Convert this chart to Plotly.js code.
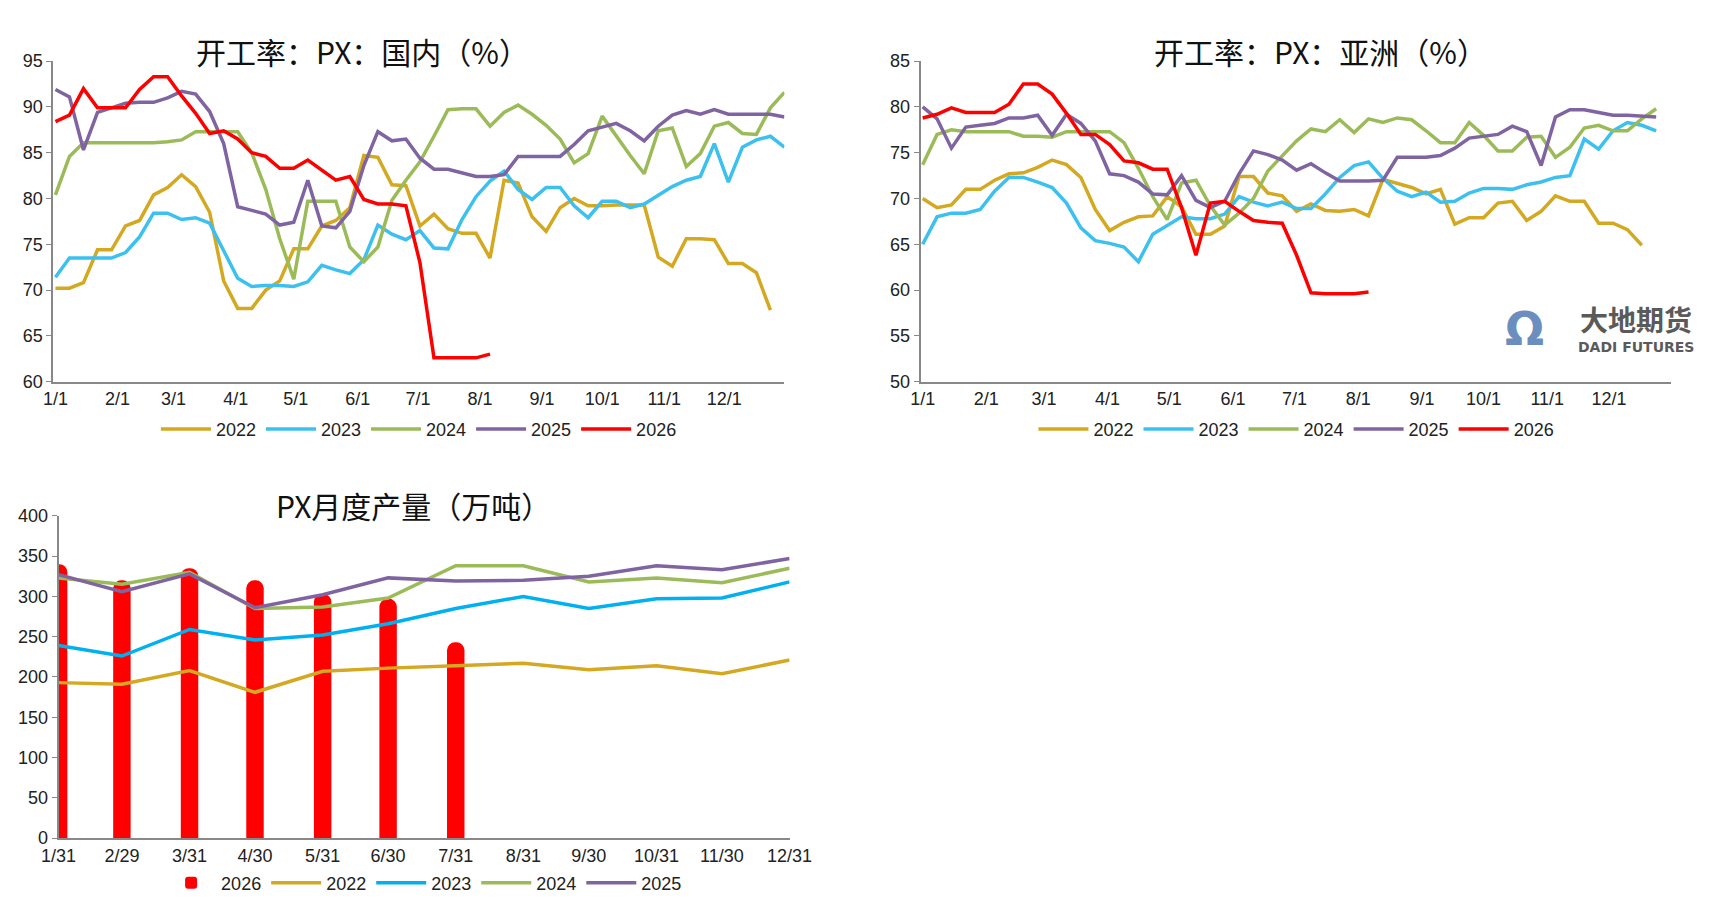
<!DOCTYPE html>
<html>
<head>
<meta charset="utf-8">
<script src="https://cdn.plot.ly/plotly-3.0.1.min.js"></script>
<style>body{margin:0;background:#fff}#myDiv{width:1724px;height:913px}</style>
</head>
<body>
<div id="myDiv"></div>
<script>
// weekly operating rates, domestic PX (%)
var cn2022 = [70.2,70.2,70.8,74.4,74.4,77,77.6,80.4,81.2,82.6,81.3,78.5,71,68,68,70,71,74.5,74.5,77,77.6,79,84.7,84.5,81.5,81.4,77,78.3,76.7,76.2,76.2,73.5,82,81.7,78,76.4,79,80,79.2,79.2,79.3,79.3,79.3,73.6,72.6,75.6,75.6,75.5,72.9,72.9,71.9,67.8];
var cn2023 = [71.4,73.5,73.5,73.5,73.5,74.1,75.8,78.4,78.4,77.7,77.9,77.3,74.2,71.3,70.4,70.5,70.5,70.4,70.9,72.7,72.2,71.8,73.3,77.1,76.1,75.5,76.5,74.6,74.5,77.7,80.2,81.9,83,81,79.9,81.2,81.2,79.2,77.9,79.7,79.7,79,79.4,80.4,81.3,82,82.4,86,81.8,85.6,86.4,86.8,85.6];
var cn2024 = [80.4,84.6,86.1,86.1,86.1,86.1,86.1,86.1,86.2,86.4,87.3,87.3,87.3,87.3,85,81,75.6,71.2,79.7,79.7,79.7,74.7,73.1,74.7,79.8,82,84,86.8,89.7,89.8,89.8,87.9,89.4,90.2,89.2,88,86.5,83.9,84.9,89,86.8,84.7,82.7,87.4,87.7,83.5,84.9,87.9,88.3,87.1,87,89.9,91.6];
var cn2025 = [91.9,91.1,85.3,89.4,89.9,90.4,90.5,90.5,91,91.7,91.4,89.5,86,79.1,78.7,78.3,77.1,77.4,82,77,76.8,78.6,83.6,87.3,86.3,86.5,84.4,83.2,83.2,82.8,82.4,82.4,82.6,84.6,84.6,84.6,84.6,85.9,87.4,87.8,88.2,87.4,86.3,87.9,89.1,89.6,89.2,89.7,89.2,89.2,89.2,89.2,88.9];
var cn2026 = [88.4,89.1,92,89.9,89.9,89.9,91.9,93.3,93.3,91.2,89.3,87.1,87.4,86.5,85,84.6,83.3,83.3,84.2,83.1,82,82.4,79.9,79.4,79.4,79.2,73,62.6,62.6,62.6,62.6,63];

// weekly operating rates, Asia PX (%)
var as2022 = [70,69,69.3,71,71,72,72.7,72.8,73.4,74.2,73.7,72.3,68.8,66.5,67.4,68,68.1,70.2,69.1,66.1,66.1,67,72.4,72.4,70.6,70.3,68.6,69.4,68.7,68.6,68.8,68.1,72.1,71.7,71.2,70.5,71,67.2,67.9,67.9,69.5,69.7,67.6,68.6,70.3,69.7,69.7,67.3,67.3,66.6,64.9];
var as2023 = [65,68,68.4,68.4,68.8,70.8,72.3,72.3,71.8,71.2,69.5,66.8,65.4,65.1,64.7,63.1,66.1,67,68,67.8,67.8,68.3,70.2,69.6,69.2,69.6,68.9,68.9,70.5,72.3,73.6,74,72.2,70.8,70.2,70.7,69.6,69.7,70.6,71.1,71.1,71,71.5,71.8,72.3,72.5,76.5,75.4,77.4,78.3,78,77.4];
var as2024 = [73.7,77,77.5,77.3,77.3,77.3,77.3,76.8,76.8,76.7,77.3,77.3,77.3,77.3,76.1,73.3,70.2,67.7,71.7,72,69.2,67.1,68.4,70,73,74.6,76.3,77.6,77.3,78.6,77.2,78.7,78.3,78.8,78.6,77.4,76.1,76.1,78.3,76.9,75.2,75.2,76.7,76.8,74.5,75.6,77.7,78,77.4,77.4,78.7,79.8];
var as2025 = [80,78.7,75.5,77.8,78,78.2,78.8,78.8,79.1,76.9,79.2,78.2,76.3,72.7,72.5,71.8,70.5,70.4,72.5,69.8,69,69.7,72.7,75.2,74.8,74.2,73.1,73.8,72.8,71.9,71.9,71.9,72,74.5,74.5,74.5,74.7,75.5,76.6,76.8,77,77.9,77.3,73.6,78.9,79.7,79.7,79.4,79.1,79.1,79,78.9];
var as2026 = [78.8,79.2,79.9,79.4,79.4,79.4,80.3,82.5,82.5,81.4,79.3,77,77,75.9,74.1,73.9,73.2,73.2,69,63.8,69.5,69.7,68.6,67.6,67.4,67.3,63.8,59.7,59.6,59.6,59.6,59.8];

// monthly PX output (10k t)
var months = ['2024-01-31','2024-02-29','2024-03-31','2024-04-30','2024-05-31','2024-06-30','2024-07-31','2024-08-31','2024-09-30','2024-10-31','2024-11-30','2024-12-31'];
var monthLabels = ['1/31','2/29','3/31','4/30','5/31','6/30','7/31','8/31','9/30','10/31','11/30','12/31'];
var out2022 = [193,191,208,181,207,211,214,217,209,214,204,221];
var out2023 = [239,226,259,246,252,266,285,300,285,297,298,318];
var out2024 = [323,315,330,285,287,298,338,338,318,323,317,335];
var out2025 = [327,306,328,286,302,323,319,320,325,338,333,347];
var out2026 = [340,320,335,320,303,297,243];

var years = ['2022','2023','2024','2025','2026'];
var colors = ['#D4A820','#3CC0F0','#9BBB59','#8064A2','#FF0000'];

function weeks(n) {
  var d = [];
  for (var i = 0; i < n; i++) {
    d.push(new Date(Date.UTC(2021, 0, 1 + 7 * i)).toISOString().slice(0, 10));
  }
  return d;
}

var data = [];
[cn2022, cn2023, cn2024, cn2025, cn2026].forEach(function (s, i) {
  data.push({x: weeks(s.length), y: s, xaxis: 'x', yaxis: 'y', mode: 'lines', name: years[i],
    legend: 'legend', line: {color: colors[i], width: 3.5}});
});
[as2022, as2023, as2024, as2025, as2026].forEach(function (s, i) {
  data.push({x: weeks(s.length), y: s, xaxis: 'x2', yaxis: 'y2', mode: 'lines', name: years[i],
    legend: 'legend2', line: {color: colors[i], width: 3.5}});
});
data.push({x: months.slice(0, out2026.length), y: out2026, type: 'bar', name: '2026',
  xaxis: 'x3', yaxis: 'y3', legend: 'legend3', width: 8 * 86400000,
  marker: {color: '#FF0000', cornerradius: '50%'}});
var lineColors3 = ['#D4A820','#00B0F0','#9BBB59','#8064A2'];
[out2022, out2023, out2024, out2025].forEach(function (s, i) {
  data.push({x: months, y: s, xaxis: 'x3', yaxis: 'y3', mode: 'lines', name: years[i],
    legend: 'legend3', line: {color: lineColors3[i], width: 3.5}});
});

var tickFont = {family: 'Liberation Sans Narrow, Liberation Sans, sans-serif', size: 18, color: '#222'};
var dateAxis = {type: 'date', range: ['2020-12-31', '2021-12-31'], tickformat: '%-m/%-d', dtick: 'M1',
  tick0: '2021-01-01', showgrid: false, showline: true, linecolor: '#888', linewidth: 2,
  ticks: '', tickfont: tickFont, zeroline: false};
var valAxis = {showgrid: false, showline: true, linecolor: '#888', linewidth: 2, ticks: 'outside',
  ticklen: 5, tickcolor: '#888', tickfont: tickFont, zeroline: false};
var legendBase = {orientation: 'h', xanchor: 'center', yanchor: 'top',
  font: {family: 'Liberation Sans Narrow, Liberation Sans, sans-serif', size: 18, color: '#222'}, itemwidth: 50};
var titleFont = {family: 'Noto Sans CJK SC, sans-serif', size: 30, color: '#111'};
function ann(text, x, y, font) {
  return {text: text, xref: 'paper', yref: 'paper', x: x, y: y, xanchor: 'center', yanchor: 'middle',
    showarrow: false, font: font};
}

var layout = {
  width: 1724, height: 913, margin: {l: 0, r: 0, t: 0, b: 0},
  paper_bgcolor: '#fff', plot_bgcolor: '#fff',
  xaxis: Object.assign({}, dateAxis, {domain: [0.031, 0.455], anchor: 'y'}),
  yaxis: Object.assign({}, valAxis, {domain: [0.582, 0.933], range: [60, 95], dtick: 5, anchor: 'x'}),
  xaxis2: Object.assign({}, dateAxis, {domain: [0.534, 0.969], anchor: 'y2'}),
  yaxis2: Object.assign({}, valAxis, {domain: [0.582, 0.933], range: [50, 85], dtick: 5, anchor: 'x2'}),
  xaxis3: Object.assign({}, dateAxis, {domain: [0.034, 0.458], anchor: 'y3', range: ['2024-01-31', '2024-12-31'],
    tickvals: months, ticktext: monthLabels}),
  yaxis3: Object.assign({}, valAxis, {domain: [0.082, 0.435], range: [0, 400], dtick: 50, anchor: 'x3'}),
  legend: Object.assign({}, legendBase, {x: 0.243, y: 0.55}),
  legend2: Object.assign({}, legendBase, {x: 0.752, y: 0.55}),
  legend3: Object.assign({}, legendBase, {x: 0.246, y: 0.053}),
  annotations: [
    ann('开工率：PX：国内（%）', 0.21, 0.944, titleFont),
    ann('开工率：PX：亚洲（%）', 0.766, 0.944, titleFont),
    ann('PX月度产量（万吨）', 0.24, 0.447, titleFont),
    ann('<b>大地期货</b>', 0.949, 0.651, {family: 'Noto Sans CJK SC, sans-serif', size: 28, color: '#5a5a5a'}),
    ann('<b>DADI FUTURES</b>', 0.949, 0.62, {family: 'DejaVu Sans, sans-serif', size: 14, color: '#5a5a5a'}),
    ann('<b>Ω</b>', 0.884, 0.64, {family: 'DejaVu Sans, sans-serif', size: 46, color: '#6C8EBF'})
  ]
};

Plotly.newPlot('myDiv', data, layout, {displayModeBar: false});
</script>
</body>
</html>
